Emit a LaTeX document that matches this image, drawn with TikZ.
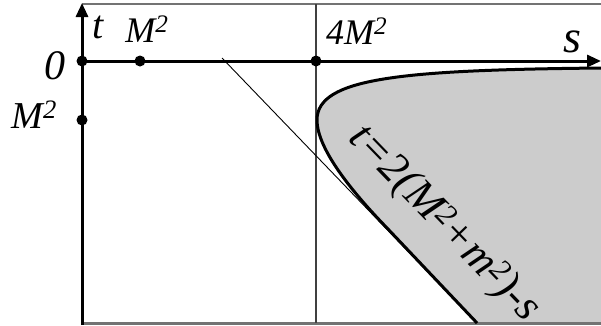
\documentclass[tikz,border=0pt]{standalone}
\usepackage{fontspec}
\setmainfont{Liberation Serif}[ItalicFont={Liberation Serif Italic}]
\usetikzlibrary{arrows.meta}
\begin{document}
\begin{tikzpicture}[x=1pt,y=-1pt,
  lab/.style={inner sep=0pt, font=\fontsize{#1}{#1}\selectfont\itshape},
  dot/.style={circle, fill=black, inner sep=0pt, minimum size=11pt},
  axis/.style={line width=3pt, -{Triangle[length=14pt,width=12pt]}},
  frame/.style={draw=black!55},
]
\useasboundingbox (0,0) rectangle (601,325);
% shaded region
\fill[black!20] (601,68) .. controls (400,70) and (317,78) .. (317,120)
  .. controls (317,150) and (355,195) .. (387,228) -- (477,323) -- (601,323) -- cycle;
% frame
\draw[frame, line width=1.5pt] (82,4) -- (601,4);
\draw[frame, line width=2.5pt] (82,323.5) -- (601,323.5);
% coordinates
\coordinate (vb) at (82,325);
\coordinate (vt) at (82,3);
\coordinate (hl) at (82,61);
\coordinate (hr) at (601,61);
\coordinate (ft) at (316,4);
\coordinate (fb) at (316,323);
\coordinate (da) at (222,58);
\coordinate (db) at (477,323);
% thin lines
\draw[black!75, line width=1.1pt] (ft) -- (fb);
\draw[line width=0.9pt] (da) -- (db);
% boundary curve
\draw[line width=3pt] (601,68) .. controls (400,70) and (317,78) .. (317,120)
  .. controls (317,150) and (355,195) .. (387,228) -- (477,323);
% axes
\draw[axis] (vb) -- (vt);
\draw[axis] (hl) -- (hr);
% dots
\node[dot] (d0) at (82,61) {};
\node[dot] (d1) at (140,61) {};
\node[dot] (d4) at (316,61) {};
\node[dot] (dm) at (82,120) {};
% labels
\node[lab=40, anchor=base] (lt) at (98,38) {t};
\node[lab=36, anchor=base] (lm) at (147,42) {M\textsuperscript{2}};
\node[lab=36, anchor=base west] (l4) at (326,44) {4M\textsuperscript{2}};
\node[lab=46, anchor=base] (ls) at (572,52) {s};
\node[lab=42, anchor=base east] (l0) at (66,79) {0};
\node[lab=38, anchor=base east] (lmm) at (57,128) {M\textsuperscript{2}};
\node[lab=44, rotate=-46] (lf) at (444,224) {t=2(M\textsuperscript{2}+m\textsuperscript{2})-s};
\end{tikzpicture}
\end{document}
